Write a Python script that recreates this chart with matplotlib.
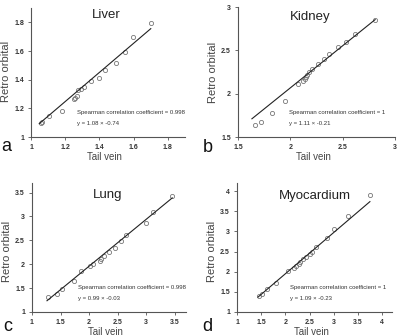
"""
plot.py — retro orbital vs tail vein, four tissues, scatter + fitted line.
"""
import matplotlib
matplotlib.use("Agg")
import matplotlib.pyplot as plt
import numpy as np

plt.rcParams["font.family"] = ["Liberation Sans", "DejaVu Sans"]

# ---- data ---------------------------------------------------------------
LIVER_X = [1.058, 1.067, 1.106, 1.179, 1.254, 1.256, 1.270, 1.276, 1.293,
           1.308, 1.351, 1.399, 1.434, 1.499, 1.547, 1.596, 1.700]
LIVER_Y = [1.097, 1.102, 1.146, 1.181, 1.264, 1.274, 1.288, 1.329, 1.334,
           1.352, 1.394, 1.413, 1.466, 1.519, 1.591, 1.696, 1.793]

KIDNEY_X = [1.659, 1.719, 1.821, 1.945, 2.075, 2.117, 2.136, 2.145, 2.161,
            2.177, 2.206, 2.269, 2.317, 2.368, 2.454, 2.530, 2.619, 2.810]
KIDNEY_Y = [1.635, 1.673, 1.777, 1.919, 2.115, 2.150, 2.165, 2.188, 2.212,
            2.246, 2.288, 2.346, 2.396, 2.462, 2.535, 2.592, 2.688, 2.854]

LUNG_X = [1.281, 1.439, 1.527, 1.744, 1.861, 2.025, 2.071, 2.200, 2.218,
          2.259, 2.347, 2.452, 2.552, 2.645, 2.991, 3.125, 3.459]
LUNG_Y = [1.306, 1.368, 1.479, 1.653, 1.861, 1.965, 2.000, 2.063, 2.111,
          2.181, 2.250, 2.333, 2.486, 2.611, 2.854, 3.097, 3.431]

MYO_X = [1.454, 1.523, 1.619, 1.812, 2.052, 2.169, 2.210, 2.279, 2.307,
         2.369, 2.431, 2.499, 2.541, 2.637, 2.850, 3.001, 3.290, 3.744]
MYO_Y = [1.402, 1.451, 1.566, 1.721, 2.016, 2.098, 2.139, 2.197, 2.246,
         2.311, 2.361, 2.443, 2.492, 2.615, 2.836, 3.066, 3.369, 3.902]

# drawn trend lines (slope, intercept as they appear on the plot)
FIT_SLOPE     = [1.017, 0.972, 0.980, 1.025]
FIT_INTERCEPT = [0.027, 0.123, -0.002, -0.100]
FIT_XRANGE    = [(1.048, 1.700), (1.633, 2.810), (1.263, 3.459), (1.433, 3.744)]

TITLES    = ["Liver", "Kidney", "Lung", "Myocardium"]
LETTERS   = ["a", "b", "c", "d"]
SPEARMAN  = ["0.998", "1", "0.998", "1"]
EQUATIONS = ["y = 1.08 \u00d7 -0.74", "y = 1.11 \u00d7 -0.21",
             "y = 0.99 \u00d7 -0.03", "y = 1.09 \u00d7 -0.23"]
LIMITS    = [(1, 1.9), (1.5, 3.0), (1, 3.7), (1, 4.2)]
TICKS     = [[1, 1.2, 1.4, 1.6, 1.8], [1.5, 2, 2.5, 3],
             [1, 1.5, 2, 2.5, 3, 3.5], [1, 1.5, 2, 2.5, 3, 3.5, 4]]
TICKLABELS = [["1", "1.2", "1.4", "1.6", "1.8"], ["1.5", "2", "2.5", "3"],
              ["1", "1.5", "2", "2.5", "3", "3.5"],
              ["1", "1.5", "2", "2.5", "3", "3.5", "4"]]

SERIES = [(LIVER_X, LIVER_Y), (KIDNEY_X, KIDNEY_Y), (LUNG_X, LUNG_Y), (MYO_X, MYO_Y)]

# axes boxes in pixels (left, top, right, bottom) on a 404x335 canvas
W, H = 404, 335
BOXES = [(31, 8, 185, 137), (238, 7, 395, 137), (32, 183, 186, 312), (237, 183, 392, 312)]
TEXT_X   = [0.30, 0.327, 0.296, 0.34]
TITLE_X  = [0.49, 0.46, 0.493, 0.50]
TITLE_Y  = [0.946, 0.923, 0.904, 0.903]
YLAB_Y   = [0.51, 0.5, 0.47, 0.47]
LETTER_X = [-0.162, -0.19, -0.16, -0.19]
LETTER_Y = [-0.07, -0.077, -0.11, -0.11]

AX_COLOR = "#555555"


def draw_panel(fig, i):
    l, t, r, b = BOXES[i]
    ax = fig.add_axes([l / W, 1 - b / H, (r - l) / W, (b - t) / H])
    xs, ys = SERIES[i]
    ax.plot(xs, ys, linestyle="none", marker="o", markersize=3,
            markerfacecolor="none", markeredgecolor="#777777", markeredgewidth=0.6)
    x0, x1 = FIT_XRANGE[i]
    fx = np.array([x0, x1])
    ax.plot(fx, FIT_SLOPE[i] * fx + FIT_INTERCEPT[i], color="#222222", linewidth=0.8)

    lo, hi = LIMITS[i]
    ax.set_xlim(lo, hi)
    ax.set_ylim(lo, hi)
    ax.set_xticks(TICKS[i])
    ax.set_xticklabels(TICKLABELS[i])
    ax.set_yticks(TICKS[i])
    ax.set_yticklabels(TICKLABELS[i])
    for side in ("top", "right"):
        ax.spines[side].set_visible(False)
    for side in ("left", "bottom"):
        ax.spines[side].set_color(AX_COLOR)
        ax.spines[side].set_linewidth(0.8)
    ax.tick_params(direction="out", length=2, width=0.6, color=AX_COLOR,
                   labelsize=5, labelcolor="#333333", pad=3)
    for lab in ax.get_xticklabels() + ax.get_yticklabels():
        lab.set_fontweight("bold")

    ax.set_xlabel("Tail vein", fontsize=7, color="#444444")
    ax.set_ylabel("Retro orbital", fontsize=8, color="#444444")
    ax.xaxis.set_label_coords(0.48, -0.115)
    ax.yaxis.set_label_coords(-0.128, YLAB_Y[i])

    ax.text(TITLE_X[i], TITLE_Y[i], TITLES[i], transform=ax.transAxes,
            ha="center", va="center", fontsize=9.5, color="#222222")
    ax.text(TEXT_X[i], 0.19, f"Spearman correlation coefficient = {SPEARMAN[i]}",
            transform=ax.transAxes, ha="left", va="center", fontsize=4.3, color="#333333")
    ax.text(TEXT_X[i], 0.105, EQUATIONS[i], transform=ax.transAxes,
            ha="left", va="center", fontsize=4.3, color="#333333")
    ax.text(LETTER_X[i], LETTER_Y[i], LETTERS[i], transform=ax.transAxes,
            ha="center", va="center", fontsize=13, color="#111111")
    return ax


def main():
    fig = plt.figure(figsize=(W / 100, H / 100), dpi=100)
    for i in range(4):
        draw_panel(fig, i)
    fig.savefig("out.png", dpi=100)
    plt.close(fig)


if __name__ == "__main__":
    main()
